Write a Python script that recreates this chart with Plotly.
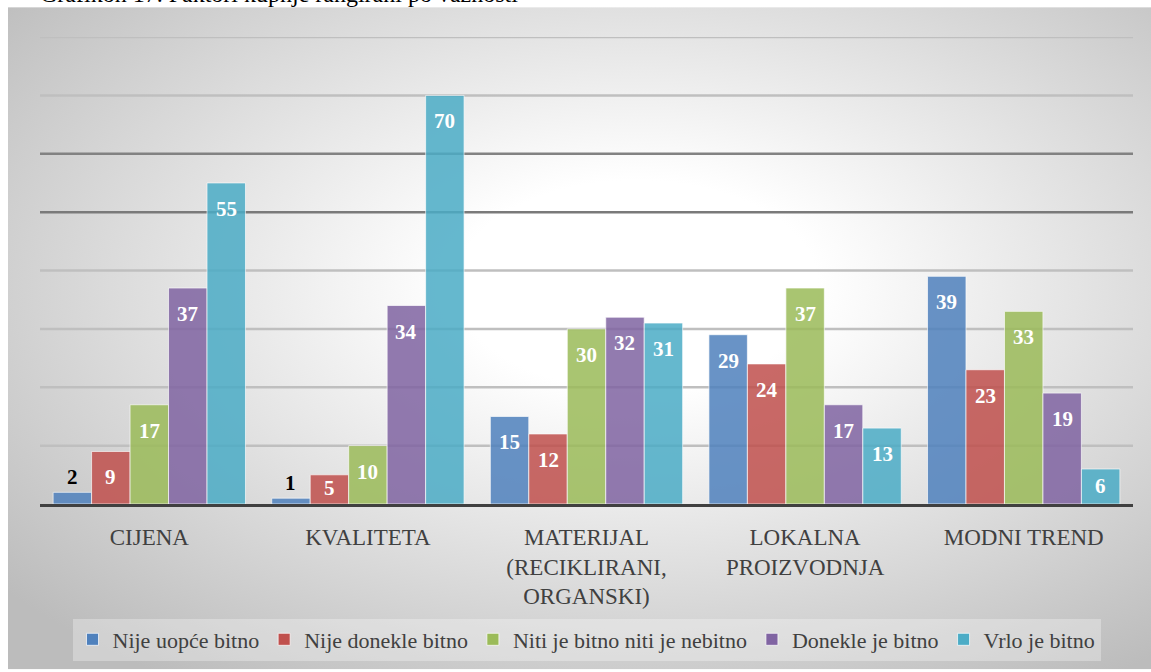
import base64
import plotly.graph_objects as go

# ---------------- data ----------------
categories = ["CIJENA", "KVALITETA", "MATERIJAL<br>(RECIKLIRANI,<br>ORGANSKI)",
              "LOKALNA<br>PROIZVODNJA", "MODNI TREND"]
series_names = ["Nije uopće bitno", "Nije donekle bitno", "Niti je bitno niti je nebitno",
                "Donekle je bitno", "Vrlo je bitno"]
nije_uopce = [2, 1, 15, 29, 39]
nije_donekle = [9, 5, 12, 24, 23]
niti_niti = [17, 10, 30, 37, 33]
donekle = [37, 34, 32, 17, 19]
vrlo = [55, 70, 31, 13, 6]
series_values = [nije_uopce, nije_donekle, niti_niti, donekle, vrlo]
grid_values = [10, 20, 30, 40, 50, 60, 70, 80]
title_text = "Grafikon 17. Faktori kupnje rangirani po važnosti"

# ---------------- style ----------------
colors = ["#4f81bd", "#c0504d", "#9bbb59", "#8064a2", "#4bacc6"]
grid_colors = {50: "#7a7a7a", 60: "#828282"}
FONT = "Liberation Serif"
W, H = 1151, 672
ML, MR, MT, MB = 40, 18, 37, 166
PLOT_W = W - ML - MR
PLOT_H = H - MT - MB
YMAX = 80
BARGAP = 0.12
n_series = len(series_values)

fig = go.Figure()
for name, vals, col in zip(series_names, series_values, colors):
    fig.add_trace(go.Bar(
        x=categories, y=vals, name=name,
        marker=dict(color=col, opacity=0.85,
                    line=dict(color="rgba(255,255,255,0.7)", width=1)),
        hoverinfo="x+y+name",
    ))

# value labels placed through the axes
px_per_unit = PLOT_H / YMAX
bw = (1 - BARGAP) / n_series
annotations = []
for j, vals in enumerate(series_values):
    for i, v in enumerate(vals):
        xpos = i + (j - (n_series - 1) / 2) * bw
        h = v * px_per_unit
        if h < 20:
            annotations.append(dict(x=xpos, y=v, xref="x", yref="y", text=str(v),
                                    showarrow=False, yanchor="bottom", yshift=1,
                                    font=dict(family=FONT, size=21, color="#000000", weight="bold")))
        else:
            off = min(26, h / 2 - 1)
            annotations.append(dict(x=xpos, y=v, xref="x", yref="y", text=str(v),
                                    showarrow=False, yanchor="middle", yshift=-off,
                                    font=dict(family=FONT, size=21, color="#ffffff", weight="bold")))

# partially visible caption at the top
annotations.append(dict(x=(38 - ML) / PLOT_W, y=(PLOT_H + MT + 6) / PLOT_H, xref="paper", yref="paper",
                        text=title_text, showarrow=False, xanchor="left", yanchor="middle",
                        font=dict(family=FONT, size=24, color="#000000")))

shapes = []
for g in grid_values:
    shapes.append(dict(type="line", xref="paper", yref="y", x0=0, x1=1, y0=g, y1=g,
                       layer="below", line=dict(color=grid_colors.get(g, "#bfbfbf"), width=2.5)))

# gradient background image
bw_img, bh_img = W - 8, H - 7
svg = f"""<svg xmlns='http://www.w3.org/2000/svg' width='{bw_img}' height='{bh_img}' viewBox='0 0 {bw_img} {bh_img}' preserveAspectRatio='none'>
<defs><radialGradient id='g' cx='0.55' cy='0.42' r='0.72'>
<stop offset='0' stop-color='#ffffff'/><stop offset='0.22' stop-color='#ffffff'/>
<stop offset='1' stop-color='#bcbcbc'/></radialGradient></defs>
<rect width='{bw_img}' height='{bh_img}' fill='url(#g)'/></svg>"""
src = "data:image/svg+xml;base64," + base64.b64encode(svg.encode()).decode()

fig.update_layout(
    width=W, height=H,
    margin=dict(l=ML, r=MR, t=MT, b=MB),
    paper_bgcolor="#ffffff", plot_bgcolor="rgba(0,0,0,0)",
    barmode="group", bargap=BARGAP, bargroupgap=0,
    font=dict(family=FONT, color="#404040"),
    showlegend=True,
    legend=dict(orientation="h", x=0.5, xanchor="center", y=(PLOT_H - (621 - MT)) / PLOT_H,
                yanchor="top", font=dict(family=FONT, size=22, color="#404040"),
                bgcolor="rgba(255,255,255,0.3)", itemwidth=30, traceorder="normal"),
    xaxis=dict(showline=True, linecolor="#404040", linewidth=3, showgrid=False,
               ticks="outside", ticklen=10, tickcolor="rgba(0,0,0,0)",
               tickfont=dict(family=FONT, size=23, color="#404040"), fixedrange=True),
    yaxis=dict(range=[0, YMAX], showgrid=False, zeroline=False, showticklabels=False,
               fixedrange=True),
    annotations=annotations,
    shapes=shapes,
    images=[dict(source=src, xref="paper", yref="paper",
                 x=(8 - ML) / PLOT_W, y=(PLOT_H + MT - 7) / PLOT_H,
                 sizex=bw_img / PLOT_W, sizey=bh_img / PLOT_H,
                 xanchor="left", yanchor="top", sizing="stretch", layer="below")],
)

fig.write_html("out.html", config={"displayModeBar": False},
               post_script="document.body.style.margin='0';document.body.style.overflow='hidden';")
